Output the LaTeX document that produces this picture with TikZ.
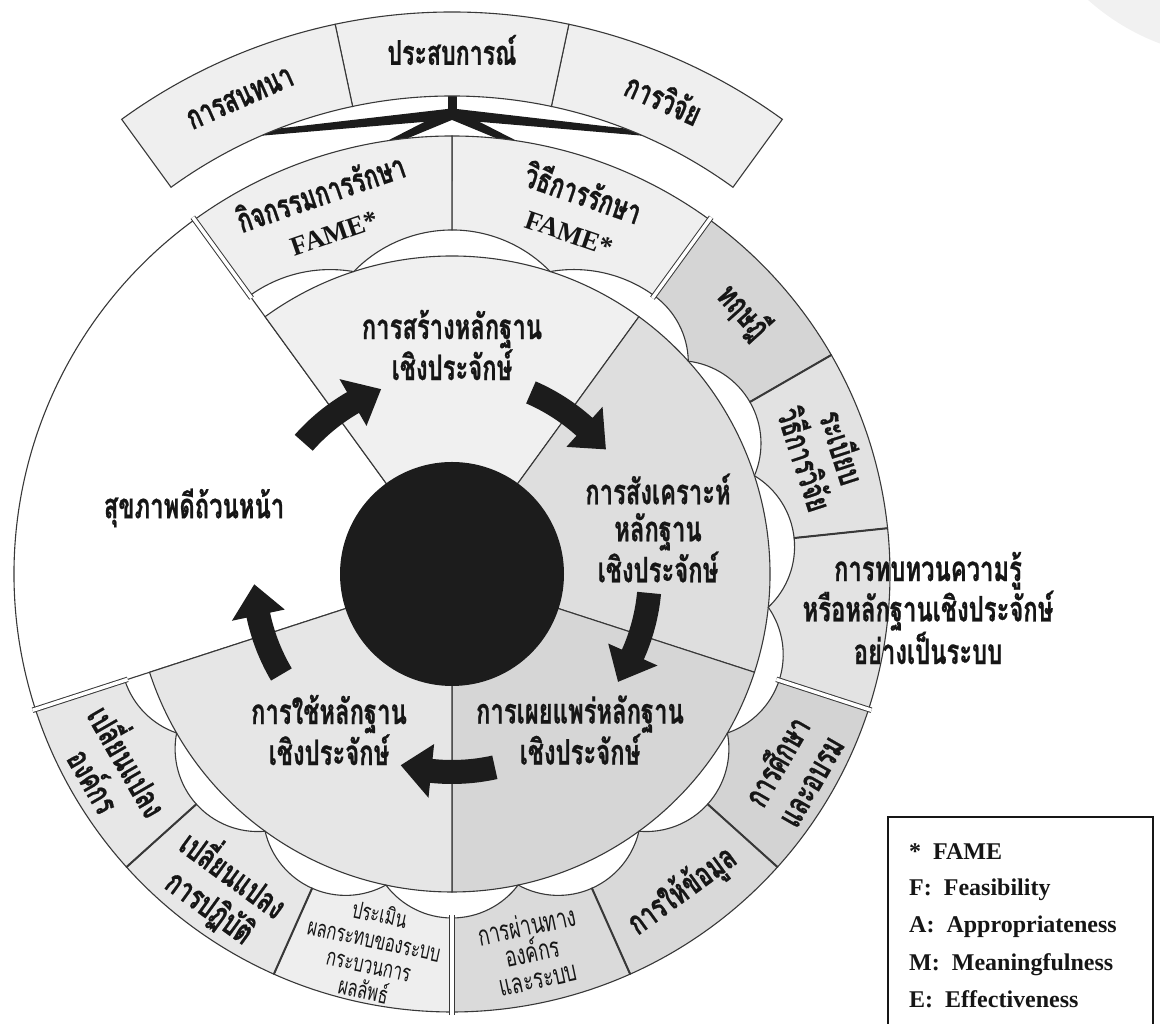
\documentclass[tikz,border=0pt]{standalone}
\usepackage{fontspec}
\setmainfont{Liberation Serif}
\newfontfamily\thaifont[Script=Thai, FakeStretch=0.68, BoldFeatures={FakeBold=0.6}]{Loma}
\usetikzlibrary{calc}

\definecolor{lc}{HTML}{383838}
\definecolor{ink}{HTML}{161616}
\definecolor{hub}{HTML}{1C1C1C}
\definecolor{corner}{HTML}{F1F1F1}
\definecolor{secA}{HTML}{F0F0F0}
\definecolor{secB}{HTML}{DEDEDE}
\definecolor{secC}{HTML}{D6D6D6}
\definecolor{secD}{HTML}{E6E6E6}
\definecolor{boxTop}{HTML}{EFEFEF}
\definecolor{boxTheory}{HTML}{D5D5D5}
\definecolor{boxMethod}{HTML}{E2E2E2}
\definecolor{boxReview}{HTML}{E3E3E3}
\definecolor{boxEduc}{HTML}{D3D3D3}
\definecolor{boxInfo}{HTML}{D9D9D9}
\definecolor{boxSys}{HTML}{DADADA}
\definecolor{boxEval}{HTML}{EEEEEE}
\definecolor{boxChange}{HTML}{E7E7E7}

% outer ring cell: #1 start angle, #2 end angle, #3 scallop radius,
% #4 scallop sweep, #5 fill colour
\newcommand\ringcell[5]{%
  \draw[rim, fill=#5] (#1:344)
    arc[start angle=#1, end angle=#1+#4, radius=#3pt]
    arc[start angle=#2-#4, end angle=#2, radius=#3pt]
    -- (#2:438) arc[start angle=#2, end angle=#1, radius=438pt] -- cycle;}

% curved clockwise arrow crossing the boundary at angle #1
\newcommand\cycarrow[1]{%
  \fill[arrowfill] (#1+12.5:210)
    arc[start angle=#1+12.5, end angle=#1-6, radius=210pt]
    -- (#1-6:225) -- (#1-15:198) -- (#1-6:171) -- (#1-6:186)
    arc[start angle=#1-6, end angle=#1+12.5, radius=186pt] -- cycle;}

% tapered bar from #1 to #2
\newcommand\taperbar[2]{%
  \fill[hub] ($(#1)!5.5pt!90:(#2)$) -- ($(#2)!2.5pt!-90:(#1)$)
    -- ($(#2)!2.5pt!90:(#1)$) -- ($(#1)!5.5pt!-90:(#2)$) -- cycle;}

\begin{document}
\begin{tikzpicture}[x=1pt, y=1pt,
  rim/.style={draw=lc, line width=1.1},
  divider/.style={draw=lc, line width=2},
  gapline/.style={draw=lc, line width=1, double=white, double distance=3.5pt},
  arrowfill/.style={fill=hub},
  mainlab/.style={font=\thaifont\bfseries\fontsize{35}{37}\selectfont,
    align=center, text=ink, inner sep=0},
  boxlab/.style={font=\thaifont\bfseries\fontsize{34}{39}\selectfont,
    align=center, text=ink, inner sep=0},
  smalllab/.style={font=\thaifont\fontsize{24}{26}\selectfont,
    align=center, text=ink, inner sep=0},
  keytext/.style={font=\bfseries\fontsize{24}{30}\selectfont,
    anchor=base west, text=ink, inner sep=0},
]
\useasboundingbox (0,0) rectangle (1160,1024);
\fill[corner] (1240,1194) circle[radius=228pt];

\begin{scope}[shift={(452,450)}]
  % connector joining the three sources to the two FAME cells
  \coordinate (J) at (90:460);
  \coordinate (stemtop) at (90:486);
  \coordinate (armL) at (114:482);
  \coordinate (armR) at (66:482);
  \coordinate (legL) at (99:434);
  \coordinate (legR) at (81:434);
  \taperbar{J}{armL}
  \taperbar{J}{armR}
  \taperbar{J}{legL}
  \taperbar{J}{legR}
  \fill[hub] ($(J)+(-4.5,0)$) rectangle ($(stemtop)+(4.5,0)$);

  % sector of global health
  \draw[rim, fill=white] (0,0) -- (126:438)
    arc[start angle=126, end angle=198, radius=438pt] -- cycle;

  % four inner sectors
  \draw[rim, fill=secA] (0,0) -- (54:318)
    arc[start angle=54, end angle=126, radius=318pt] -- cycle;
  \draw[rim, fill=secB] (0,0) -- (-18:318)
    arc[start angle=-18, end angle=54, radius=318pt] -- cycle;
  \draw[rim, fill=secC] (0,0) -- (-90:318)
    arc[start angle=-90, end angle=-18, radius=318pt] -- cycle;
  \draw[rim, fill=secD] (0,0) -- (198:318)
    arc[start angle=198, end angle=270, radius=318pt] -- cycle;

  % outer ring cells
  \ringcell{54}{90}{136.9}{45.9}{boxTop}
  \ringcell{90}{126}{136.9}{45.9}{boxTop}
  \ringcell{30}{54}{82.8}{53}{boxTheory}
  \ringcell{6}{30}{82.8}{53}{boxMethod}
  \ringcell{-18}{6}{82.8}{53}{boxReview}
  \ringcell{-42}{-18}{82.8}{53}{boxEduc}
  \ringcell{-66}{-42}{82.8}{53}{boxInfo}
  \ringcell{-90}{-66}{82.8}{53}{boxSys}
  \ringcell{246}{270}{82.8}{53}{boxEval}
  \ringcell{222}{246}{82.8}{53}{boxChange}
  \ringcell{198}{222}{82.8}{53}{boxChange}

  % three sources at the top
  \foreach \a/\b in {54/78, 78/102, 102/126}{
    \draw[rim, fill=boxTop] (\a:478) -- (\a:562)
      arc[start angle=\a, end angle=\b, radius=562pt] -- (\b:478)
      arc[start angle=\b, end angle=\a, radius=478pt] -- cycle;
  }

  % dividers inside each group and gaps between groups
  \foreach \a in {30, 6, -42, -66, 222, 246}{
    \draw[divider] (\a:344) -- (\a:438);
  }
  \foreach \a in {54, -18, -90, 198, 126}{
    \draw[gapline] (\a:341) -- (\a:441);
  }

  % hub
  \fill[hub] (0,0) circle[radius=112pt];

  % cycle arrows
  \foreach \b in {126, 54, -18, -90, 198}{
    \cycarrow{\b}
  }

  % sector labels
  \node[mainlab] (build) at (0,229) {การสร้างหลักฐาน\\เชิงประจักษ์};
  \node[mainlab] (synth) at (206,46) {การสังเคราะห์\\หลักฐาน\\เชิงประจักษ์};
  \node[mainlab] (transfer) at (128,-156) {การเผยแพร่หลักฐาน\\เชิงประจักษ์};
  \node[mainlab] (utilise) at (-123,-156) {การใช้หลักฐาน\\เชิงประจักษ์};
  \node[mainlab] (health) at (-258,66) {สุขภาพดีถ้วนหน้า};

  % source labels
  \node[boxlab, rotate=24] (discourse) at (114:521) {การสนทนา};
  \node[boxlab] (experience) at (90:524) {ประสบการณ์};
  \node[boxlab, rotate=-24] (research) at (66:521) {การวิจัย};

  % ring labels
  \node[boxlab, rotate=19] (fameact) at (109:385) {กิจกรรมการรักษา\\{\fontsize{27}{30}\rmfamily\bfseries FAME*}};
  \node[boxlab, rotate=-19] (famemeth) at (71:385) {วิธีการรักษา\\{\fontsize{27}{30}\rmfamily\bfseries FAME*}};
  \node[boxlab, rotate=-48] (theory) at (42:392) {ทฤษฎี};
  \node[boxlab, rotate=-72] (method) at (18:392) {ระเบียบ\\วิธีการวิจัย};
  \node[boxlab, font=\thaifont\bfseries\fontsize{35}{37}\selectfont] (review) at (476,-34) {การทบทวนความรู้\\หรือหลักฐานเชิงประจักษ์\\อย่างเป็นระบบ};
  \node[boxlab, rotate=60] (educ) at (-30:393) {การศึกษา\\และอบรม};
  \node[boxlab, rotate=36] (info) at (-54:392) {การให้ข้อมูล};
  \node[smalllab, rotate=12, font=\thaifont\fontsize{28}{27}\selectfont] (systems) at (-78:386) {การผ่านทาง\\องค์กร\\และระบบ};
  \node[smalllab, rotate=-12] (evalu) at (258:386) {ประเมิน\\ผลกระทบของระบบ\\กระบวนการ\\ผลลัพธ์};
  \node[boxlab, rotate=-36] (practice) at (234:390) {เปลี่ยนแปลง\\การปฏิบัติ};
  \node[boxlab, rotate=-60] (org) at (210:390) {เปลี่ยนแปลง\\องค์กร};
\end{scope}

% key to FAME
\draw[draw=ink, line width=1.6] (888,-5) -- (888,207) -- (1153,207) -- (1153,-5);
\node[keytext] (k0) at (909,164) {*\ \ FAME};
\node[keytext] (k1) at (909,128) {F:\ \ Feasibility};
\node[keytext] (k2) at (909,91) {A:\ \ Appropriateness};
\node[keytext] (k3) at (909,53) {M:\ \ Meaningfulness};
\node[keytext] (k4) at (909,16) {E:\ \ Effectiveness};
\end{tikzpicture}
\end{document}
